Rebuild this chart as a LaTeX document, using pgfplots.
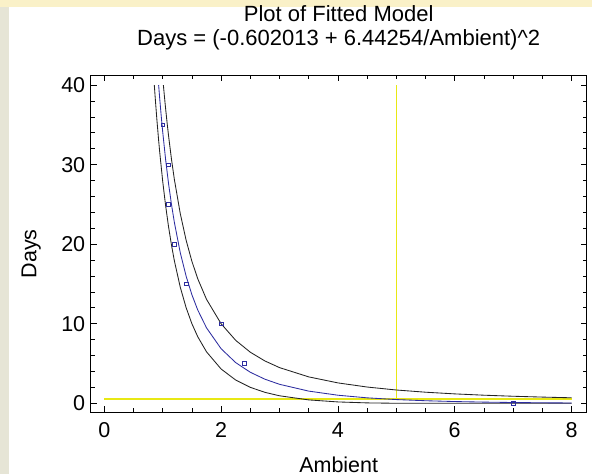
\documentclass[border=0pt]{standalone}
\usepackage{pgfplots}
\pgfplotsset{compat=1.18}
\usepackage{fontspec}
\setmainfont{Liberation Sans}
\definecolor{fitblue}{RGB}{45,45,160}
\definecolor{limgray}{RGB}{35,35,35}
\definecolor{xhair}{RGB}{232,232,20}
\definecolor{topband}{RGB}{250,241,200}
\definecolor{leftband}{RGB}{230,229,214}
\begin{document}
\begin{tikzpicture}[x=1pt,y=1pt]
\fill[white] (0,0) rectangle (592,474);
\fill[topband] (0,467) rectangle (592,474);
\fill[leftband] (0,0) rectangle (9,467);
\begin{axis}[
  name=ax,
  scale only axis, width=496pt, height=337.3pt,
  at={(90.7pt,61.7pt)}, anchor=south west,
  xmin=-0.233, xmax=8.26, ymin=-1.13, ymax=41.26,
  xtick={0,2,4,6,8}, ytick={0,10,20,30,40},
  minor x tick num=3, minor y tick num=4,
  xtick pos=both, ytick pos=both,
  xticklabel pos=left, yticklabel pos=left,
  tick align=inside, major tick length=6pt, minor tick length=4pt,
  tick style={black, line width=0.7pt},
  axis line style={black, line width=0.9pt},
  /pgf/number format/assume math mode=true,
  ticklabel style={font=\fontsize{21.5}{25}\selectfont},
  xticklabel style={yshift=-7pt},
  yticklabel style={xshift=-2pt},
  xlabel={Ambient}, ylabel={Days},
  label style={font=\fontsize{21.5}{25}\selectfont},
  xlabel style={at={(axis description cs:0.5,0)}, anchor=base, yshift=-60pt},
  ylabel style={at={(axis description cs:-0.12,0.47)}, anchor=center},
]
% cross-hair
\addplot[xhair, line width=1.6pt] coordinates {(0,0.55) (8,0.55)};
\addplot[xhair, line width=1.2pt] coordinates {(5,0.55) (5,40)};
% lower limit
\addplot[limgray, line width=0.85pt] coordinates {
(0.85612,40.0) (0.875,38.064) (0.9,35.678) (0.93012,33.061) (0.95,31.471)
(1.0,27.894) (1.05,24.831) (1.1,22.189) (1.15,19.898) (1.2,17.900)
(1.3,14.609) (1.4,12.039) (1.5,10.002) (1.6,8.367) (1.75,6.471)
(2.0,4.310) (2.25,2.924) (2.5,2.005) (2.75,1.379) (3.0,0.946)
(3.5,0.429) (4.0,0.173) (4.5,0.052) (5.0,0.006) (5.5,0.0)
(6.0,0.0) (6.5,0.0) (7.0,0.0) (7.5,0.0) (8.0,0.0)};
% upper limit
\addplot[limgray, line width=0.85pt] coordinates {
(1.0117,39.98) (1.03,38.523) (1.05,37.021) (1.075,35.264) (1.1,33.630)
(1.15,30.688) (1.2,28.119) (1.3,23.868) (1.4,20.521) (1.5,17.838)
(1.6,15.654) (1.75,13.068) (2.0,10.001) (2.25,7.911) (2.5,6.421)
(2.75,5.322) (3.0,4.487) (3.5,3.322) (4.0,2.566) (4.5,2.046)
(5.0,1.673) (5.5,1.396) (6.0,1.185) (6.5,1.020) (7.0,0.888)
(7.5,0.782) (8.0,0.694)};
% fitted model
\addplot[fitblue, line width=0.85pt] coordinates {
(0.93012,40.0) (0.95,38.188) (0.975,36.069) (1.0,34.112) (1.05,30.622)
(1.1,27.613) (1.15,25.002) (1.2,22.722) (1.3,18.955) (1.4,15.998)
(1.5,13.638) (1.6,11.728) (1.75,9.483) (2.0,6.860) (2.25,5.114)
(2.5,3.901) (2.75,3.030) (3.0,2.389) (3.5,1.534) (4.0,1.017)
(4.5,0.688) (5.0,0.471) (5.5,0.324) (6.0,0.2225) (6.5,0.1514)
(7.0,0.1013) (7.5,0.0660) (8.0,0.0413)};
% observations
\addplot[only marks, mark=square, mark size=1.8pt, fitblue, mark options={line width=0.6pt}] coordinates {
(1.0,35) (1.1,30) (1.1,25) (1.2,20) (1.4,15) (2.0,10) (2.4,5) (7.0,0)};
\end{axis}
\node[anchor=base, font=\fontsize{22}{26}\selectfont] at ([yshift=54pt]ax.north) {Plot of Fitted Model};
\node[anchor=base, font=\fontsize{22}{26}\selectfont] at ([yshift=30pt]ax.north) {Days = (-0.602013 + 6.44254/Ambient)\textasciicircum 2};
\end{tikzpicture}
\end{document}
